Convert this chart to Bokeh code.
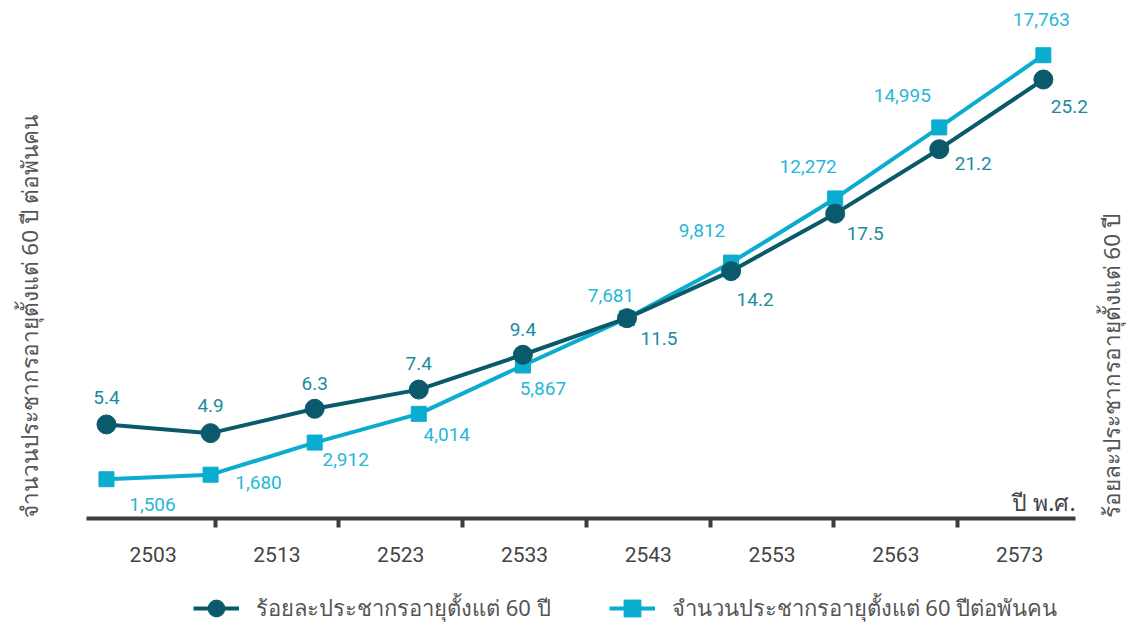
import math
from bokeh.plotting import figure
from bokeh.models import (Range1d, LinearAxis, FixedTicker, Legend,
                          LegendItem, ColumnDataSource)
from bokeh.core.properties import value
from bokeh.embed import file_html
from bokeh.resources import INLINE

# ---------------- data ----------------
years = ["2503", "2513", "2523", "2533", "2543", "2553", "2563", "2573"]
pct_values = [5.4, 4.9, 6.3, 7.4, 9.4, 11.5, 14.2, 17.5, 21.2, 25.2]
cnt_values = [1506, 1680, 2912, 4014, 5867, 7681, 9812, 12272, 14995, 17763]
pct_name = "ร้อยละประชากรอายุตั้งแต่ 60 ปี"
cnt_name = "จำนวนประชากรอายุตั้งแต่ 60 ปีต่อพันคน"
left_title = "จำนวนประชากรอายุตั้งแต่ 60 ปี ต่อพันคน"
right_title = "ร้อยละประชากรอายุตั้งแต่ 60 ปี"
x_title = "ปี พ.ศ."

# data-label offsets in screen px (positive dy = upwards)
pct_dx = [0, 0, 0, 0, 0, 32, 24, 30, 34, 26]
pct_dy = [27, 28, 25, 26, 25, -20, -28, -20, -14, -27]
cnt_dx = [46, 48, 31, 28, 20, -16, -29, -27, -37, -2]
cnt_dy = [-25, -8, -17, -21, -23, 23, 32, 32, 32, 36]

DARK = "#0b5a6b"
LIGHT = "#0aaccf"
DARK_TXT = "#1a8c9e"
LIGHT_TXT = "#27b7d8"
AXIS = "#3d3d3d"
TXT = "#555555"
FONT_NUM = "Roboto"
FONT_TH = "Noto Sans"

W, H = 1135, 624
idx = list(range(len(pct_values)))

p = figure(width=W, height=H, output_backend="svg", toolbar_location=None,
           x_range=Range1d(-1.018, 9.885), y_range=Range1d(-6.085, 29.736),
           x_axis_type=None, y_axis_type=None,
           min_border_left=0, min_border_right=0, min_border_top=0,
           min_border_bottom=0)
p.outline_line_color = None
p.background_fill_color = "white"
p.border_fill_color = "white"
p.extra_x_ranges = {"lab": Range1d(-0.733, 8.436)}
p.extra_y_ranges = {"cnt": Range1d(-4064, 19861)}

centers = [i + 0.5 for i in range(len(years))]
bounds = list(range(1, len(years)))
xaxis = LinearAxis(x_range_name="lab",
                   ticker=FixedTicker(ticks=centers, minor_ticks=bounds),
                   major_label_overrides={c: y for c, y in zip(centers, years)},
                   bounds=(-0.04, 7.95), fixed_location=0)
xaxis.axis_line_color = AXIS
xaxis.axis_line_width = 4
xaxis.major_tick_line_color = None
xaxis.major_tick_out = 0
xaxis.major_tick_in = 0
xaxis.minor_tick_line_color = AXIS
xaxis.minor_tick_line_width = 4
xaxis.minor_tick_out = 9
xaxis.minor_tick_in = 0
xaxis.major_label_standoff = 20
xaxis.major_label_text_font = FONT_NUM
xaxis.major_label_text_font_size = "21px"
xaxis.major_label_text_color = "#444444"
p.add_layout(xaxis, "below")

# series
src_p = ColumnDataSource(dict(x=idx, y=pct_values,
                              t=[f"{v:.1f}" for v in pct_values],
                              dx=pct_dx, dy=[-d for d in pct_dy]))
src_c = ColumnDataSource(dict(x=idx, y=cnt_values,
                              t=[f"{v:,}" for v in cnt_values],
                              dx=cnt_dx, dy=[-d for d in cnt_dy]))

lc = p.line("x", "y", source=src_c, y_range_name="cnt", line_color=LIGHT, line_width=4)
mc = p.scatter("x", "y", source=src_c, y_range_name="cnt", marker="square",
               size=15, fill_color=LIGHT, line_color=LIGHT)
lp = p.line("x", "y", source=src_p, line_color=DARK, line_width=4)
mp = p.scatter("x", "y", source=src_p, marker="circle", size=19,
               fill_color=DARK, line_color=DARK)

p.text("x", "y", text="t", source=src_p, x_offset="dx", y_offset="dy",
       text_align="center", text_baseline="middle", text_color=DARK_TXT,
       text_font=value(FONT_NUM), text_font_size="19px")
p.text("x", "y", text="t", source=src_c, y_range_name="cnt",
       x_offset="dx", y_offset="dy",
       text_align="center", text_baseline="middle", text_color=LIGHT_TXT,
       text_font=value(FONT_NUM), text_font_size="19px")

# axis titles as text glyphs (bottom-aligned, reading upwards)
title_src = ColumnDataSource(dict(x=[-0.74, 9.65], y=[0.0, 0.0],
                                  t=[left_title, right_title]))
p.text("x", "y", text="t", source=title_src, angle=math.pi / 2,
       text_align="left", text_baseline="middle", text_color=TXT,
       text_font=value(FONT_TH), text_font_size="22.5px")
p.text(x=[9.31], y=[0.0], text=[x_title], text_align="right",
       text_baseline="bottom", text_color="#444444",
       text_font=value(FONT_TH), text_font_size="23px")

legend = Legend(items=[LegendItem(label=pct_name, renderers=[lp, mp]),
                       LegendItem(label=cnt_name, renderers=[lc, mc])],
                orientation="horizontal", location=(193, -5),
                padding=0, spacing=58, glyph_width=46, glyph_height=42,
                label_standoff=17, label_height=42, margin=0,
                label_text_font=FONT_TH, label_text_font_size="22px",
                label_text_color=TXT, border_line_color=None,
                background_fill_alpha=0)
p.add_layout(legend, "center")

open("out.html", "w").write(file_html(p, INLINE))
